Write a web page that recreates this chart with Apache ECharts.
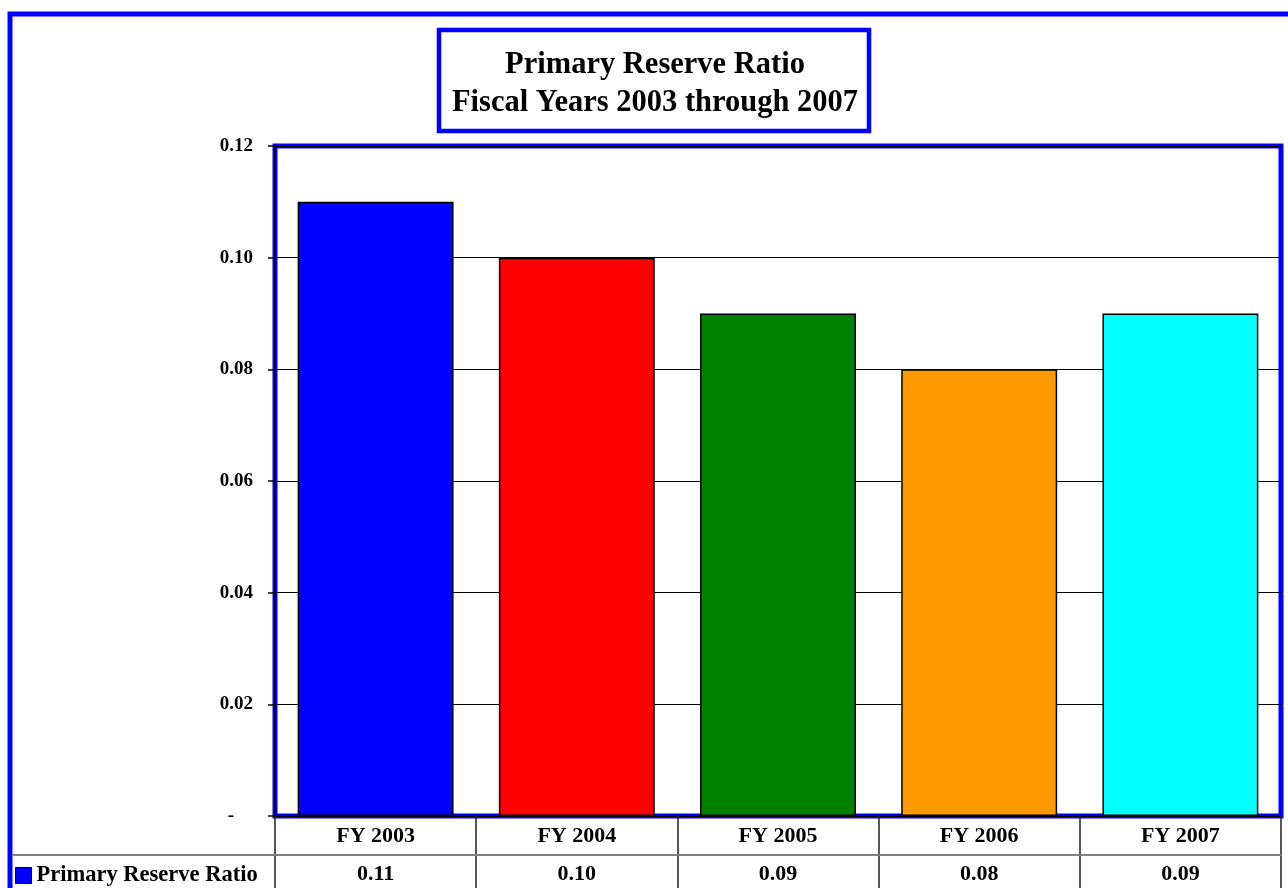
<!DOCTYPE html>
<html>
<head>
<meta charset="utf-8">
<script src="https://cdn.jsdelivr.net/npm/echarts@6/dist/echarts.min.js"></script>
<style>
  html, body { margin: 0; padding: 0; background: #fff; }
  #chart { width: 1288px; height: 888px; }
</style>
</head>
<body>
<div id="chart"></div>
<script>
// Primary reserve ratio by fiscal year
const categories = ['FY 2003', 'FY 2004', 'FY 2005', 'FY 2006', 'FY 2007'];
const ratioValues = [0.11, 0.10, 0.09, 0.08, 0.09];
const barColors = ['#0000ff', '#ff0000', '#008000', '#ff9900', '#00ffff'];
const seriesName = 'Primary Reserve Ratio';
const titleLines = ['Primary Reserve Ratio', 'Fiscal Years 2003 through 2007'];

const FONT = '"Liberation Serif", "Times New Roman", serif';
const BLUE = '#0000ff';

const chart = echarts.init(document.getElementById('chart'), null, { renderer: 'canvas' });

chart.setOption({
  animation: false,
  backgroundColor: '#ffffff',
  title: {
    text: titleLines.join('\n'),
    left: 655,
    top: 46,
    textAlign: 'center',
    padding: 0,
    textStyle: {
      fontFamily: FONT,
      fontSize: 30.5,
      fontWeight: 'bold',
      color: '#000',
      lineHeight: 38
    }
  },
  legend: {
    left: 15,
    top: 864,
    padding: 0,
    icon: 'rect',
    itemWidth: 16,
    itemHeight: 16,
    itemGap: 5,
    data: [{ name: seriesName, itemStyle: { color: BLUE, borderColor: '#000', borderWidth: 1 } }],
    textStyle: { fontFamily: FONT, fontSize: 22.5, fontWeight: 'bold', color: '#000', lineHeight: 22 }
  },
  grid: {
    left: 275,
    right: 7,
    top: 146,
    bottom: 72,
    show: true,
    borderColor: BLUE,
    borderWidth: 5,
    backgroundColor: 'transparent'
  },
  xAxis: [
    {
      type: 'category',
      data: categories,
      position: 'bottom',
      axisLine: { show: true, lineStyle: { color: '#000', width: 1.5 } },
      axisTick: { show: true, length: 72, lineStyle: { color: '#222', width: 1.5 } },
      axisLabel: {
        margin: 9,
        fontFamily: FONT, fontSize: 22, fontWeight: 'bold', color: '#000', lineHeight: 22
      }
    },
    {
      type: 'category',
      data: ratioValues.map(v => v.toFixed(2)),
      position: 'bottom',
      offset: 39,
      axisLine: { show: false },
      axisTick: { show: false },
      axisLabel: {
        margin: 8,
        fontFamily: FONT, fontSize: 22, fontWeight: 'bold', color: '#000', lineHeight: 22
      }
    }
  ],
  yAxis: {
    type: 'value',
    min: 0,
    max: 0.12,
    interval: 0.02,
    axisLine: { show: true, lineStyle: { color: '#000', width: 1.5 } },
    axisTick: { show: true, length: 7, lineStyle: { color: '#000', width: 1.5 } },
    splitLine: { show: true, lineStyle: { color: '#000', width: 1 } },
    axisLabel: {
      margin: 22,
      fontFamily: FONT, fontSize: 19, fontWeight: 'bold', color: '#000',
      formatter: v => (v === 0 ? '{dash|-}' : v.toFixed(2)),
      rich: {
        dash: { fontFamily: FONT, fontSize: 19, fontWeight: 'bold', color: '#000', padding: [0, 19, 0, 0] }
      }
    }
  },
  series: [{
    name: seriesName,
    type: 'bar',
    xAxisIndex: 0,
    barCategoryGap: '22.5%',
    data: ratioValues.map((v, i) => ({
      value: v,
      itemStyle: { color: barColors[i] }
    })),
    itemStyle: { color: BLUE, borderColor: '#000', borderWidth: 1.5 },
    z: 3
  }],
  graphic: [
    {
      // outer frame
      type: 'rect',
      shape: { x: 10, y: 14, width: 1400, height: 1000 },
      style: { fill: 'none', stroke: BLUE, lineWidth: 5 },
      silent: true,
      z: 10
    },
    {
      // title box
      type: 'rect',
      shape: { x: 439, y: 30, width: 430, height: 101 },
      style: { fill: 'none', stroke: BLUE, lineWidth: 4.5 },
      silent: true,
      z: 10
    },
    {
      // data table row divider
      type: 'line',
      shape: { x1: 12, y1: 855, x2: 1281, y2: 855 },
      style: { stroke: '#808080', lineWidth: 2 },
      silent: true,
      z: 10
    }
  ]
});
</script>
</body>
</html>
